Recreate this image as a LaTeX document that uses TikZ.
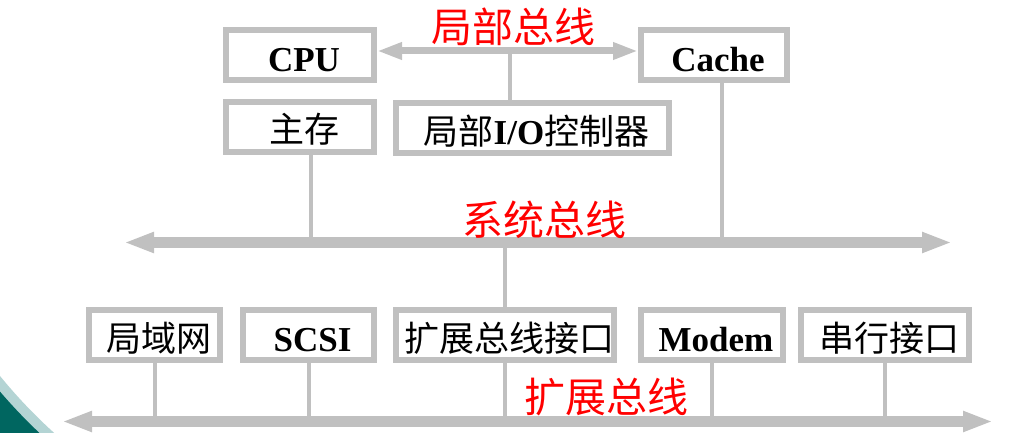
\documentclass[tikz,border=0pt]{standalone}
\usepackage{fontspec}
\setmainfont{Liberation Serif}
\newfontfamily\cjk{Noto Sans CJK SC}
\usetikzlibrary{arrows.meta}
\definecolor{busgray}{RGB}{192,192,192}
\definecolor{tealdark}{RGB}{0,102,96}
\definecolor{teallight}{RGB}{180,212,212}
\tikzset{box/.style={rectangle, draw=busgray, line width=6pt, fill=white,
inner sep=0pt, minimum height=50pt, text height=32pt, text depth=0pt,
execute at begin node=\hspace*{8pt}},
lat/.style={box, font=\fontsize{35}{35}\selectfont\bfseries},
han/.style={box, font=\fontsize{35}{35}\selectfont\cjk},
buslabel/.style={inner sep=0pt, text=red, font=\fontsize{41}{41}\selectfont\cjk},
link/.style={draw=busgray, line width=4pt},
localbus/.style={draw=busgray, line width=7pt,
arrows={Triangle[width=16pt,length=25pt]-Triangle[width=16pt,length=25pt]}},
mainbus/.style={draw=busgray, line width=11pt,
arrows={Triangle[width=19pt,length=30pt]-Triangle[width=19pt,length=30pt]}}}

\begin{document}
\begin{tikzpicture}[x=1pt,y=-1pt]
  \useasboundingbox (0,0) rectangle (1023,433);
  \fill [white] (0,0) rectangle (1023,433);
  % slide corner
  \begin{scope}
    \clip (0,340) rectangle (100,433);
    \fill [teallight, even odd rule] (-10,330) rectangle (110,443) (400,50) circle [radius=516];
    \fill [tealdark, even odd rule] (-10,330) rectangle (110,443) (400,50) circle [radius=526];
  \end{scope}
  % upper row
  \node (cpu) [lat, minimum width=148pt] at (300,55.5) {CPU};
  \node (cache) [lat, minimum width=146pt] at (714,55.5) {Cache};
  \node (mem) [han, minimum width=148pt] at (300,127) {主存};
  \node (lio) [han, minimum width=273pt] at (532.5,128.5) {局部{\rmfamily\bfseries I/O}控制器};
  % lower row
  \node (lan) [han, minimum width=131pt] at (154.5,335) {局域网};
  \node (scsi) [lat, minimum width=131pt] at (308.5,335) {SCSI};
  \node (ebi) [han, minimum width=218pt] at (505,335) {扩展总线接口};
  \node (modem) [lat, minimum width=142pt] at (712,335) {Modem};
  \node (uart) [han, minimum width=168pt] at (885,335) {串行接口};
  % buses
  \coordinate (lb) at (510,51);
  \coordinate (sysL) at (124,242.5);
  \coordinate (sysR) at (952,242.5);
  \coordinate (extL) at (62,421.5);
  \coordinate (extR) at (993,421.5);
  \coordinate (memtap) at (311,242.5);
  \coordinate (cachetap) at (722,242.5);
  \draw [localbus] (cpu.east |- lb) -- (cache.west |- lb);
  \draw [mainbus] (sysL) -- (sysR);
  \draw [mainbus] (extL) -- (extR);
  \draw [link] (lb) -- (lb |- lio.north);
  \draw [link] (memtap |- mem.south) -- (memtap);
  \draw [link] (cachetap |- cache.south) -- (cachetap);
  \draw [link] (ebi.north |- sysL) -- (ebi.north);
  \foreach \n in {lan,scsi,ebi,modem,uart}
    \draw [link] (\n.south) -- (\n.south |- extL);
  % bus names
  \node (lbname) [buslabel] at (513,27) {局部总线};
  \node (sbname) [buslabel] at (544,220) {系统总线};
  \node (ebname) [buslabel] at (606,397) {扩展总线};
\end{tikzpicture}
\end{document}
